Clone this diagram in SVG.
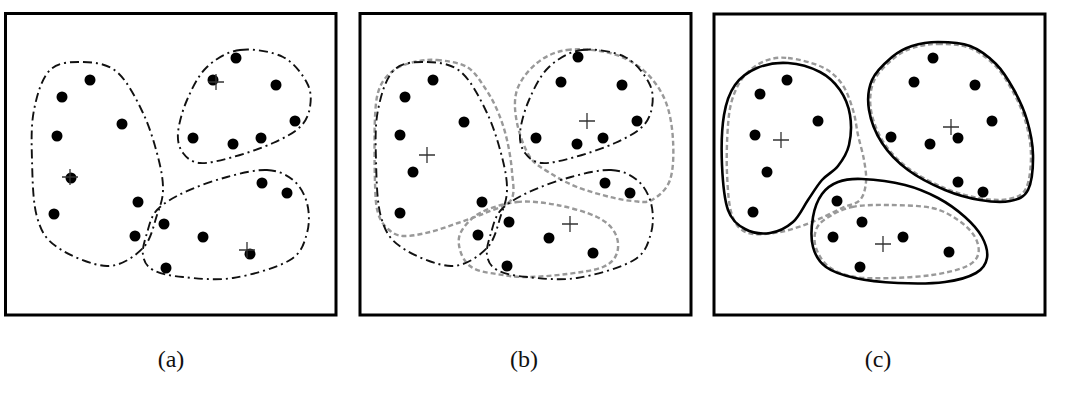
<svg xmlns="http://www.w3.org/2000/svg" width="1066" height="403" viewBox="0 0 1066 403">
<style>
.frame{fill:none;stroke:#000;stroke-width:3}
.dd{fill:none;stroke:#111;stroke-width:1.9;stroke-dasharray:9 4 2 4}
.gd{fill:none;stroke:#999;stroke-width:2.4;stroke-dasharray:5 3}
.sol{fill:none;stroke:#000;stroke-width:2.6}
.pt{fill:#000}
.cr{stroke:#333;stroke-width:1.3;fill:none}
.lbl{font-family:"Liberation Serif","Times New Roman",serif;font-size:24px;text-anchor:middle;fill:#111}
</style>
<defs>
<path id="la" d="M83,62 C94.2,62.3 107,63.5 117,72 S136.2,98.8 143,113 S154.7,144.2 158,157 S163.2,180.3 163,190 S160.3,205.3 157,215 S151.3,239.5 143,248 S121.3,266.2 107,266 S68.7,255.2 57,247 S41.2,231.5 37,217 S32.5,177.8 32,160 S31,125 34,110 S41.8,78 50,70 S71.8,61.7 83,62 Z"/>
<path id="tra" d="M240,50 C252.7,48.3 271.8,51.5 283,57 S302.5,74.7 307,83 S311.2,99.7 310,107 S306.2,121 300,127 S284.2,138 273,143 S245.2,153.7 233,157 S208.3,163.7 200,163 S186.7,158 183,153 S177.3,141.8 178,133 S182.2,111 187,100 S198.2,75.3 207,67 S227.3,51.7 240,50 Z"/>
<path id="ba" d="M267,170 C278,170.5 286.3,174.5 293,180 S304.7,194.2 307,203 S309.8,223.5 307,233 S302.3,252.5 290,260 S250.8,275.2 233,278 S196.3,278.3 183,277 S159.7,273.7 153,270 S144,261.2 143,255 S144.7,240.5 147,233 S150.7,216.8 157,210 S173.3,197.5 185,192 S213.3,180.7 227,177 S256,169.5 267,170 Z"/>
<path id="trc" d="M938,42 C947.7,42 960.3,42.3 970,46 S988.7,56.7 996,64 S1008.8,80.7 1014,90 S1023.8,109.2 1027,120 S1032.8,143.3 1033,155 S1031.8,182.3 1028,190 S1018,199.3 1010,201 S990.8,201.8 980,200 S957,195 945,190 S918.5,177.8 908,170 S888.5,153 882,143 S870.7,120.5 869,110 S868.2,88.8 872,80 S885.3,62.7 892,57 S904.3,48.5 912,46 S928.3,42 938,42 Z"/>
<path id="cross" d="M-8,0 H8 M0,-8 V8"/>
</defs>

<g id="panel-a">
<rect class="frame" x="5.5" y="13.5" width="330.5" height="301.5"/>
<g id="connectors-a">
<use href="#la" class="dd"/>
<use href="#tra" class="dd"/>
<use href="#ba" class="dd"/>
</g>
<g id="points-a" class="pt">
<circle cx="90" cy="80" r="5.5"/><circle cx="62" cy="97" r="5.5"/><circle cx="122" cy="124" r="5.5"/><circle cx="57" cy="136" r="5.5"/><circle cx="71" cy="178" r="5.5"/><circle cx="54" cy="214" r="5.5"/><circle cx="138" cy="202" r="5.5"/><circle cx="135" cy="236" r="5.5"/>
<circle cx="236" cy="58" r="5.5"/><circle cx="213" cy="80" r="5.5"/><circle cx="276" cy="85" r="5.5"/><circle cx="295" cy="121" r="5.5"/><circle cx="193" cy="138" r="5.5"/><circle cx="233" cy="144" r="5.5"/><circle cx="261" cy="138" r="5.5"/>
<circle cx="262" cy="183" r="5.5"/><circle cx="287" cy="193" r="5.5"/><circle cx="164" cy="224" r="5.5"/><circle cx="203" cy="237" r="5.5"/><circle cx="250" cy="254" r="5.5"/><circle cx="166" cy="268" r="5.5"/>
</g>
<g id="centroids-a">
<use href="#cross" class="cr" x="70" y="177"/>
<use href="#cross" class="cr" x="216" y="82"/>
<use href="#cross" class="cr" x="247" y="250"/>
</g>
<text class="lbl" x="171" y="367">(a)</text>
</g>

<g id="panel-b">
<rect class="frame" x="360" y="13.5" width="331" height="301.5"/>
<g id="connectors-b">
<path class="gd" d="M437,60 C445.8,60.8 459,62.3 467,67 S479.8,80.5 485,88 S494.3,103.3 498,112 S504.7,130 507,140 S511.3,162 512,172 S515.5,193.2 511,200 S493.8,209.2 485,213 S467.2,219.8 458,223 S439.2,229.8 430,232 S410,236.5 403,236 S392.2,232.8 388,229 S380.2,220.7 378,213 S375.5,199 375,183 S374.2,133 375,117 S376.8,94.8 380,87 S388.3,74.2 394,70 S406.8,63.7 414,62 S428.2,59.2 437,60 Z"/>
<path class="gd" d="M567,50 C579.2,48.3 597.3,49.7 610,53 S633.8,62.2 643,70 S660,88.3 665,100 S672.2,126.7 673,140 S673.5,170 670,180 S658.2,196.5 652,200 S640,201.5 633,201 S619.3,199.3 610,197 S587,191 577,187 S557.8,178 550,173 S535.5,165.3 530,157 S519.2,134.2 517,123 S513.7,100 517,90 S528.7,69.7 537,63 S554.8,51.7 567,50 Z"/>
<path class="gd" d="M517,202 C529.8,200.7 543.7,202.5 557,205 S587.3,212.3 597,217 S611.7,227 615,233 S619,247.3 617,253 S611.3,263.5 603,267 S580.3,272.3 567,274 S535.8,277.2 523,277 S498.8,274.2 490,273 S475,269.8 470,266 S461.5,255.7 460,250 S457.7,238.2 461,232 S470.7,218 480,213 S504.2,203.3 517,202 Z"/>
<use href="#la" class="dd" x="344"/>
<use href="#tra" class="dd" x="342"/>
<use href="#ba" class="dd" x="344"/>
</g>
<g id="points-b" class="pt">
<circle cx="433" cy="80" r="5.5"/><circle cx="405" cy="97" r="5.5"/><circle cx="464" cy="122" r="5.5"/><circle cx="400" cy="135" r="5.5"/><circle cx="413" cy="172" r="5.5"/><circle cx="400" cy="213" r="5.5"/><circle cx="482" cy="202" r="5.5"/><circle cx="478" cy="235" r="5.5"/>
<circle cx="578" cy="57" r="5.5"/><circle cx="561" cy="82" r="5.5"/><circle cx="622" cy="85" r="5.5"/><circle cx="637" cy="121" r="5.5"/><circle cx="536" cy="138" r="5.5"/><circle cx="577" cy="144" r="5.5"/><circle cx="603" cy="138" r="5.5"/>
<circle cx="605" cy="183" r="5.5"/><circle cx="630" cy="193" r="5.5"/><circle cx="509" cy="222" r="5.5"/><circle cx="549" cy="238" r="5.5"/><circle cx="593" cy="253" r="5.5"/><circle cx="507" cy="266" r="5.5"/>
</g>
<g id="centroids-b">
<use href="#cross" class="cr" x="427" y="155"/>
<use href="#cross" class="cr" x="587" y="121"/>
<use href="#cross" class="cr" x="570" y="224"/>
</g>
<text class="lbl" x="524" y="367">(b)</text>
</g>

<g id="panel-c">
<rect class="frame" x="714" y="14" width="331" height="301"/>
<g id="connectors-c">
<path class="gd" d="M788,58 C797.5,59 813,62.7 822,67 S836.8,76.8 842,84 S850.3,101.5 853,110 S856.2,126.7 858,135 S862.7,152.2 864,160 S866.7,175.3 866,182 S864,195.7 860,200 S850,204.3 842,208 S822.3,218 812,222 S790.7,230.2 780,232 S756,235.8 748,233 S735.5,225 732,215 S727.7,188 727,173 S727,137.7 728,125 S730.2,105.3 733,97 S739.7,81 745,75 S757.8,63.8 765,61 S778.5,57 788,58 Z"/>
<path class="gd" d="M852,207 C862.5,204.8 876.7,204.8 890,205 S920.7,205.5 932,208 S950.8,215.2 958,220 S971.7,231.2 975,237 S979.7,250 978,255 S972.7,263.7 965,267 S944.2,273.2 932,275 S904.8,277.7 892,278 S865.5,278.8 855,277 S835.5,271.8 829,267 S818.2,254.2 816,248 S814.2,235 816,230 S821,221.8 827,218 S841.5,209.2 852,207 Z"/>
<use href="#trc" class="gd" transform="translate(950 122) scale(0.975) translate(-950 -122)"/>
<path class="sol" d="M788,63 C798.5,63.7 811.3,67.5 820,72 S835,82.8 840,90 S848.5,105.8 850,115 S851,136.5 849,145 S842.5,160.2 838,166 S827,174.3 822,180 S812.8,193 808,200 S799.3,216.5 793,222 S778,231.8 770,233 S752,232.8 745,229 S731.8,220.7 728,210 S722.7,180.8 722,165 S721.8,128.3 724,115 S729.5,92.8 735,85 S748.2,71.7 757,68 S777.5,62.3 788,63 Z"/>
<use href="#trc" class="sol"/>
<path class="sol" d="M862,179 C873.2,179.5 892.3,181.8 905,185 S928,192.7 938,198 S957.7,210.5 965,217 S978.3,230.2 982,237 S988,252 987,258 S983,269 976,273 S958,280.3 945,282 S913,283.7 898,283 S867,280.7 855,278 S833,272.2 826,267 S815.2,255.3 813,247 S811.5,225.8 813,217 S817.8,199.8 822,194 S831.3,184.5 838,182 S850.8,178.5 862,179 Z"/>
</g>
<g id="points-c" class="pt">
<circle cx="787" cy="80" r="5.5"/><circle cx="760" cy="94" r="5.5"/><circle cx="818" cy="121" r="5.5"/><circle cx="755" cy="135" r="5.5"/><circle cx="767" cy="172" r="5.5"/><circle cx="753" cy="212" r="5.5"/>
<circle cx="933" cy="58" r="5.5"/><circle cx="914" cy="82" r="5.5"/><circle cx="975" cy="85" r="5.5"/><circle cx="992" cy="121" r="5.5"/><circle cx="891" cy="137" r="5.5"/><circle cx="930" cy="144" r="5.5"/><circle cx="958" cy="138" r="5.5"/><circle cx="958" cy="182" r="5.5"/><circle cx="983" cy="192" r="5.5"/>
<circle cx="837" cy="201" r="5.5"/><circle cx="862" cy="222" r="5.5"/><circle cx="833" cy="237" r="5.5"/><circle cx="903" cy="237" r="5.5"/><circle cx="949" cy="252" r="5.5"/><circle cx="860" cy="267" r="5.5"/>
</g>
<g id="centroids-c">
<use href="#cross" class="cr" x="781" y="140"/>
<use href="#cross" class="cr" x="951" y="127"/>
<use href="#cross" class="cr" x="883" y="244"/>
</g>
<text class="lbl" x="878" y="367">(c)</text>
</g>
</svg>
